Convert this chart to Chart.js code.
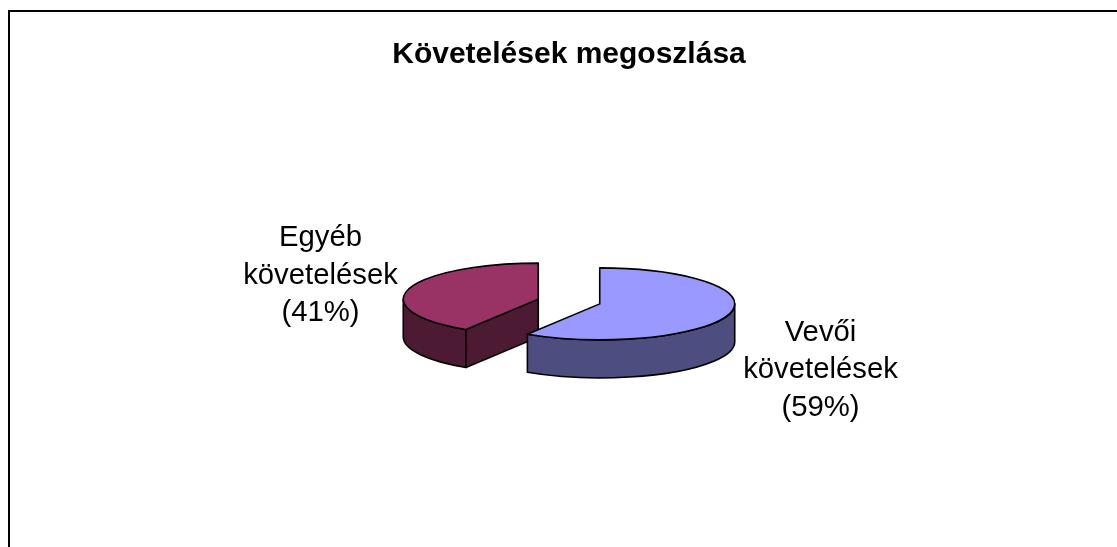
<!DOCTYPE html>
<html><head><meta charset="utf-8">
<style>html,body{margin:0;padding:0;background:#fff;overflow:hidden}canvas{display:block}</style>
<script src="https://cdn.jsdelivr.net/npm/chart.js@4/dist/chart.umd.min.js"></script>
</head><body><canvas id="c" width="1117" height="547"></canvas>
<script>
const categories = ['Vevői követelések', 'Egyéb követelések'];
const values = [59, 41];
const topColors = ['#9999FF', '#993366'];
const sideColors = ['#4D4D80', '#4D1A33'];
const labelLines = [['Vevői', 'követelések', '(59%)'], ['Egyéb', 'követelések', '(41%)']];
const labelCenters = [[820.5, 378], [320.5, 283.5]];
const titleText = 'Követelések megoszlása';
const SQUASH = 36 / 135, DEPTH = 38, RADIUS = 135, SHIFT = 32;
const CX = 569, CY = 301.5;

const pie3d = {
  id: 'pie3d',
  beforeDraw(chart) {
    const c = chart.ctx;
    c.save();
    c.fillStyle = '#fff'; c.fillRect(0, 0, chart.width, chart.height);
    c.fillStyle = '#000';
    c.fillRect(8, 10, chart.width - 8, 2);
    c.fillRect(8, 10, 2, chart.height - 10);
    c.restore();
  },
  beforeDatasetsDraw(chart) {
    const c = chart.ctx, arcs = chart.getDatasetMeta(0).data;
    // the arc element grows by offset/4 * (1 - sin(span)); cancel that per slice
    arcs.forEach(a => {
      const span = a.endAngle - a.startAngle;
      a.outerRadius = RADIUS - SHIFT * (1 - Math.sin(Math.min(Math.PI, span)));
    });
    const pts = arcs.map(a => {
      const p = a.getProps(['x', 'y', 'startAngle', 'endAngle']);
      const mid = (p.startAngle + p.endAngle) / 2;
      return { ...p, rx: RADIUS, cx: p.x + Math.cos(mid) * SHIFT, cy: CY + Math.sin(mid) * SHIFT * SQUASH };
    });
    this.pts = pts;
    c.save();
    c.lineWidth = 1.6; c.strokeStyle = '#000'; c.lineJoin = 'round';
    [1, 0].forEach(i => {
      const p = pts[i];
      const rx = p.rx, ry = rx * SQUASH;
      const walls = [];
      for (let k = -1; k <= 1; k++) {
        const lo = Math.max(p.startAngle, k * 2 * Math.PI), hi = Math.min(p.endAngle, k * 2 * Math.PI + Math.PI);
        if (hi > lo) walls.push([lo, hi]);
      }
      walls.forEach(([lo, hi]) => {
        c.beginPath();
        c.ellipse(p.cx, p.cy, rx, ry, 0, lo, hi);
        c.lineTo(p.cx + Math.cos(hi) * rx, p.cy + Math.sin(hi) * ry + DEPTH);
        c.ellipse(p.cx, p.cy + DEPTH, rx, ry, 0, hi, lo, true);
        c.closePath();
        c.fillStyle = sideColors[i]; c.fill(); c.stroke();
      });
      if (i === 1) {
        const ex = p.cx + Math.cos(p.startAngle) * rx, ey = p.cy + Math.sin(p.startAngle) * ry;
        c.beginPath();
        c.moveTo(p.cx, p.cy); c.lineTo(ex, ey); c.lineTo(ex, ey + DEPTH); c.lineTo(p.cx, p.cy + DEPTH);
        c.closePath();
        c.fillStyle = sideColors[i]; c.fill(); c.stroke();
      }
    });
    // base coat of each top face, so no gap shows along the cut edges
    pts.forEach((p, i) => {
      c.beginPath();
      c.moveTo(p.cx, p.cy);
      c.ellipse(p.cx, p.cy, p.rx, p.rx * SQUASH, 0, p.startAngle, p.endAngle);
      c.closePath();
      c.fillStyle = topColors[i]; c.fill();
    });
    // squash the library's own arcs into the pie's top faces
    c.translate(0, CY);
    c.scale(1, SQUASH);
    c.translate(0, -arcs[0].y);
  },
  afterDatasetsDraw(chart) {
    const c = chart.ctx;
    c.restore();
    c.save();
    c.lineWidth = 1.6; c.strokeStyle = '#000'; c.lineJoin = 'round';
    this.pts.forEach(p => {
      c.beginPath();
      c.moveTo(p.cx, p.cy);
      c.ellipse(p.cx, p.cy, p.rx, p.rx * SQUASH, 0, p.startAngle, p.endAngle);
      c.closePath();
      c.stroke();
    });
    c.fillStyle = '#000';
    c.font = '29.3px "Liberation Sans", Arial, sans-serif';
    c.textAlign = 'center'; c.textBaseline = 'alphabetic';
    labelLines.forEach((lines, i) => {
      lines.forEach((t, j) => c.fillText(t, labelCenters[i][0], labelCenters[i][1] + (j - 1) * 37.5));
    });
    c.restore();
  }
};

const W = 1117;
new Chart(document.getElementById('c'), {
  type: 'pie',
  data: {
    labels: categories,
    datasets: [{
      data: values,
      backgroundColor: topColors,
      borderWidth: 0,
      offset: SHIFT * 4
    }]
  },
  options: {
    responsive: false,
    animation: false,
    radius: RADIUS - SHIFT,
    layout: { padding: { left: CX - (W - CX), right: 0, top: 0, bottom: 0 } },
    plugins: {
      legend: { display: false },
      tooltip: { enabled: false },
      title: {
        display: true, text: titleText, color: '#000',
        font: { family: '"Liberation Sans", Arial, sans-serif', size: 30, weight: 'bold' },
        padding: { top: 37, bottom: 0 }
      }
    }
  },
  plugins: [pie3d]
});
</script>
</body></html>
